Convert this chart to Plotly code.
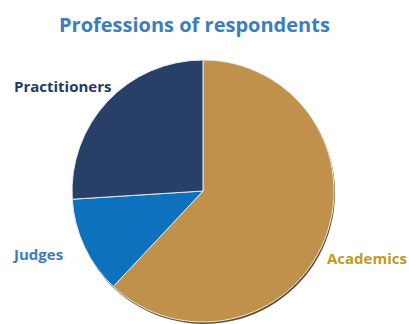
import plotly.graph_objects as go

categories = ["Academics", "Judges", "Practitioners"]
values = [62, 12, 26]
slice_colors = ["#C0914B", "#0E71BD", "#283F67"]
edge_colors = ["#6B4F22", "#0A3F6A", "#16243C"]
label_colors = ["#C29A22", "#3C7DC0", "#223A66"]
title_text = "Professions of respondents"

W, H = 409, 324
R = 131
cx, cy = 203, 191  # pixel centre (from top)

def dom(cx_, cy_):
    y0 = max(0.0, (H - cy_ - R) / H)
    y1 = min(1.0, (H - cy_ + R) / H)
    return dict(x=[(cx_ - R) / W, (cx_ + R) / W], y=[y0, y1])

fig = go.Figure()
# shadow / edge pie
fig.add_trace(go.Pie(labels=categories, values=values, sort=False,
                     direction="clockwise", rotation=0,
                     marker=dict(colors=edge_colors, line=dict(width=0)),
                     textinfo="none", hoverinfo="skip", showlegend=False,
                     domain=dom(cx + 1, cy + 2)))
fig.add_trace(go.Pie(labels=categories, values=values, sort=False,
                     direction="clockwise", rotation=0,
                     marker=dict(colors=slice_colors,
                                 line=dict(color="#E6E9EE", width=1)),
                     textinfo="none", showlegend=False,
                     domain=dom(cx, cy)))

label_pos = {"Academics": (367, 258), "Judges": (37, 254), "Practitioners": (63, 86)}
for cat, col in zip(categories, label_colors):
    px, py = label_pos[cat]
    fig.add_annotation(x=px / W, y=1 - py / H, xref="paper", yref="paper",
                       text=f"<b>{cat}</b>", showarrow=False,
                       font=dict(family="Open Sans", size=15, color=col),
                       xanchor="center", yanchor="middle")

fig.add_annotation(x=194 / W, y=1 - 24 / H, xref="paper", yref="paper",
                   text=f"<b>{title_text}</b>", showarrow=False,
                   font=dict(family="Open Sans", size=20, color="#3C7DBF"),
                   xanchor="center", yanchor="middle")

fig.update_layout(width=W, height=H, margin=dict(l=0, r=0, t=0, b=0),
                  paper_bgcolor="white", plot_bgcolor="white")
fig.write_html("out.html")
